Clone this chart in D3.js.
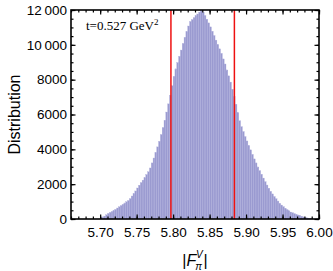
<!DOCTYPE html>
<html>
<head>
<meta charset="utf-8">
<script src="https://cdn.jsdelivr.net/npm/d3@7"></script>
<style>
  body { margin: 0; background: #fff; }
  text { font-family: "Liberation Sans", Arial, sans-serif; }
</style>
</head>
<body>
<div id="container"></div>
<script>
// histogram of |F_pi^V| at t=0.527 GeV^2, bins of 0.0025 starting at 5.70
var binStart = 5.70;
var binWidth = 0.0025;
var counts = [
  90, 120, 165, 240, 320, 380, 430, 490, 550, 630,
  700, 770, 840, 920, 990, 1060, 1170, 1320, 1460, 1610,
  1780, 1940, 2090, 2230, 2370, 2550, 2710, 2930, 3220, 3500,
  3820, 4140, 4460, 4850, 5250, 5670, 6140, 6610, 7110, 7650,
  8190, 8620, 8980, 9340, 9700, 10080, 10430, 10760, 11080, 11340,
  11450, 11560, 11680, 11770, 11880, 11980, 11880, 11680, 11470, 11260,
  11030, 10780, 10530, 10270, 10020, 9770, 9510, 9190, 8900, 8560,
  8220, 7860, 7450, 7030, 6590, 6110, 5640, 5300, 5020, 4730,
  4480, 4220, 3970, 3710, 3450, 3220, 2990, 2780, 2570, 2350,
  2140, 1950, 1770, 1590, 1440, 1290, 1160, 1030, 900, 800,
  710, 620, 540, 470, 400, 360, 310, 270, 230, 200,
  160, 120, 90, 60, 40, 20
];
var intervalBounds = [5.797, 5.884];
var xTicks = [5.70, 5.75, 5.80, 5.85, 5.90, 5.95, 6.00];
var yTicks = [0, 2000, 4000, 6000, 8000, 10000, 12000];
var annotation = "t=0.527 GeV";

var width = 333, height = 271;
var padL = 71, padR = 319, padT = 10, padB = 219;

var svg = d3.select("#container").append("svg")
    .attr("width", width)
    .attr("height", height);

var x = d3.scaleLinear().domain([5.66, 6.00]).range([padL, padR]);
var y = d3.scaleLinear().domain([0, 12000]).range([padB, padT]);

var bins = counts.map(function(c, i) {
    return { x0: binStart + i * binWidth, x1: binStart + (i + 1) * binWidth, n: c };
});

// bars
svg.append("g")
  .selectAll("rect")
  .data(bins)
  .enter().append("rect")
    .attr("x", function(d) { return x(d.x0); })
    .attr("width", function(d) { return x(d.x1) - x(d.x0); })
    .attr("y", function(d) { return y(d.n); })
    .attr("height", function(d) { return y(0) - y(d.n); })
    .style("fill", "#9a9ad0")
    .style("stroke", "#b0b0dc")
    .style("stroke-width", 0.35);

// red interval lines
svg.append("g")
  .selectAll("line")
  .data(intervalBounds)
  .enter().append("line")
    .attr("x1", function(d) { return x(d); })
    .attr("x2", function(d) { return x(d); })
    .attr("y1", y(0))
    .attr("y2", padT)
    .style("stroke", "#ee1111")
    .style("stroke-width", 1.5);

// axes with inward ticks, frame on all sides
var xMinor = d3.range(5.66, 6.0001, 0.01);
var yMinor = d3.range(0, 12001, 500);

var xb = svg.append("g").attr("transform", "translate(0," + padB + ")");
xb.call(d3.axisBottom(x).tickValues(xMinor).tickSize(-2.5).tickFormat(""));
xb.append("g").call(d3.axisBottom(x).tickValues(xTicks).tickSize(-4.5).tickPadding(8)
    .tickFormat(d3.format(".2f")));

var xt = svg.append("g").attr("transform", "translate(0," + padT + ")");
xt.call(d3.axisTop(x).tickValues(xMinor).tickSize(-2.5).tickFormat(""));
xt.append("g").call(d3.axisTop(x).tickValues(xTicks).tickSize(-4.5).tickFormat(""));

var yl = svg.append("g").attr("transform", "translate(" + padL + ",0)");
yl.call(d3.axisLeft(y).tickValues(yMinor).tickSize(-2.5).tickFormat(""));
yl.append("g").call(d3.axisLeft(y).tickValues(yTicks).tickSize(-4.5).tickPadding(4)
    .tickFormat(function(d) { return d >= 10000 ? d3.format(",")(d).replace(",", "\u2009") : d; }));

var yr = svg.append("g").attr("transform", "translate(" + padR + ",0)");
yr.call(d3.axisRight(y).tickValues(yMinor).tickSize(-2.5).tickFormat(""));
yr.append("g").call(d3.axisRight(y).tickValues(yTicks).tickSize(-4.5).tickFormat(""));

svg.selectAll(".domain").remove();
svg.selectAll(".tick line").style("stroke", "#000").style("stroke-width", 1.2);
svg.selectAll(".tick text").style("font-size", "13.5px").style("fill", "#000")
    .style("font-family", "'Liberation Sans', Arial, sans-serif");

svg.append("rect")
    .attr("x", padL).attr("y", padT)
    .attr("width", padR - padL).attr("height", padB - padT)
    .style("fill", "none")
    .style("stroke", "#000")
    .style("stroke-width", 1.6);

// annotation
var ann = svg.append("text")
    .attr("x", 86).attr("y", 30)
    .style("font-family", "'Liberation Serif', 'Times New Roman', serif")
    .style("font-size", "13px");
ann.append("tspan").text(annotation);
ann.append("tspan").attr("dy", -5).style("font-size", "9px").text("2");

// axis titles
svg.append("text")
    .attr("transform", "translate(20," + ((padT + padB) / 2) + ") rotate(-90)")
    .attr("text-anchor", "middle")
    .style("font-size", "16px")
    .text("Distribution");

var xl = svg.append("text")
    .attr("x", (padL + padR) / 2)
    .attr("y", 266)
    .attr("text-anchor", "middle")
    .style("font-size", "16px");
xl.append("tspan").text("|");
xl.append("tspan").style("font-style", "italic").text("F");
xl.append("tspan").attr("dy", 4).attr("dx", -1).style("font-size", "10px").style("font-style", "italic").text("\u03c0");
xl.append("tspan").attr("dy", -12).attr("dx", -6).style("font-size", "10px").style("font-style", "italic").text("V");
xl.append("tspan").attr("dy", 8).attr("dx", 1).text("|");
</script>
</body>
</html>
